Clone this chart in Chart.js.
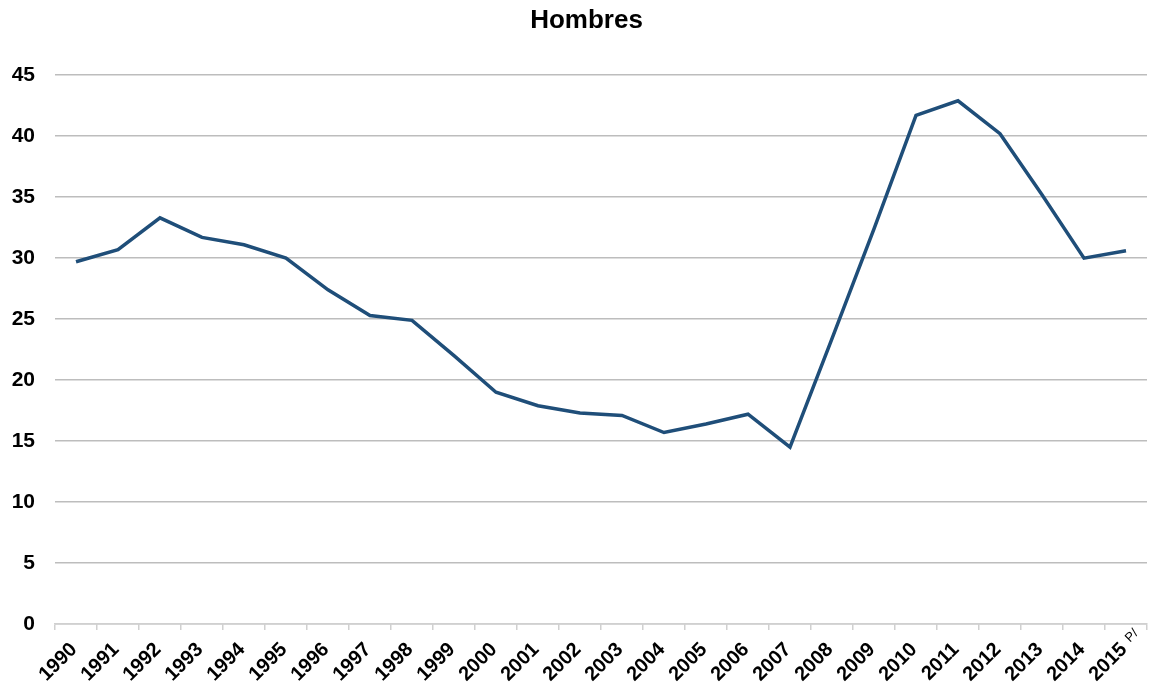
<!DOCTYPE html>
<html>
<head>
<meta charset="utf-8">
<script src="https://cdn.jsdelivr.net/npm/chart.js@4"></script>
<style>
  html, body { margin: 0; padding: 0; background: #fff; }
  #wrap { width: 1150px; height: 688px; }
</style>
</head>
<body>
<div id="wrap"><canvas id="chart" width="1150" height="688"></canvas></div>
<script>
// data
const years = ['1990','1991','1992','1993','1994','1995','1996','1997','1998','1999',
  '2000','2001','2002','2003','2004','2005','2006','2007','2008','2009',
  '2010','2011','2012','2013','2014','2015'];
const hombres = [29.7, 30.7, 33.3, 31.7, 31.1, 30.0, 27.4, 25.3, 24.9, 22.0,
  19.0, 17.9, 17.3, 17.1, 15.7, 16.4, 17.2, 14.5, 23.4, 32.4,
  41.7, 42.9, 40.2, 35.2, 30.0, 30.6];
const yTicks = [0, 5, 10, 15, 20, 25, 30, 35, 40, 45];
const lastNote = 'P/';   // preliminary mark after the last year

const font = 'Liberation Sans, Arial, sans-serif';
const X_TICK_LEN = 6, X_PAD = 8, X_SHIFT = -2, X_FONT = 20;

// small superscript "P/" after the last x label, rotated with it
const superscriptPlugin = {
    id: 'superscript',
    afterDraw(chart) {
        const sx = chart.scales.x;
        const ctx = chart.ctx;
        const x = sx.getPixelForTick(years.length - 1) + X_SHIFT;
        const y = sx.top + X_TICK_LEN + X_PAD;
        ctx.save();
        ctx.translate(x, y);
        ctx.rotate(-Math.PI / 4);
        ctx.font = '13px ' + font;
        ctx.fillStyle = '#000';
        ctx.textAlign = 'left';
        ctx.textBaseline = 'middle';
        // label middle sits at half a line height below the anchor
        ctx.fillText(lastNote, 1, X_FONT * 0.6 - 8);
        ctx.restore();
    }
};

new Chart(document.getElementById('chart').getContext('2d'), {
    type: 'line',
    data: {
        labels: years,
        datasets: [{
            label: 'Hombres',
            data: hombres,
            borderColor: '#1f4e79',
            borderWidth: 3.5,
            pointRadius: 0,
            tension: 0,
            fill: false
        }]
    },
    plugins: [superscriptPlugin],
    options: {
        responsive: false,
        animation: false,
        layout: { padding: { left: 0, right: 3, top: 5, bottom: 0 } },
        plugins: {
            legend: { display: false },
            tooltip: { enabled: false },
            title: {
                display: true,
                // en spaces nudge the title right, like the reference
                text: '\u2002\u2002Hombres',
                color: '#000',
                font: { family: font, size: 26, weight: 'bold' },
                padding: { top: 0, bottom: 39 }
            }
        },
        scales: {
            x: {
                offset: true,
                grid: {
                    offset: true,
                    drawOnChartArea: false,
                    drawTicks: true,
                    tickLength: X_TICK_LEN,
                    color: '#d0d0d0',
                    lineWidth: 1.5
                },
                border: { display: true, color: '#d0d0d0', width: 1.5 },
                ticks: {
                    color: '#000',
                    font: { family: font, size: X_FONT, weight: 'bold' },
                    minRotation: 45,
                    maxRotation: 45,
                    autoSkip: false,
                    labelOffset: X_SHIFT,
                    padding: X_PAD
                },
                afterFit: scale => {
                    scale.paddingLeft = 0;
                    scale.paddingRight = 0;
                    scale.height = 64;
                }
            },
            y: {
                min: 0,
                max: 45,
                afterBuildTicks: axis => { axis.ticks = yTicks.map(v => ({ value: v })); },
                afterFit: scale => { scale.width = 55; },
                grid: {
                    color: '#bdbdbd',
                    lineWidth: 1.5,
                    drawTicks: false
                },
                border: { display: false },
                ticks: {
                    color: '#000',
                    font: { family: font, size: 21, weight: 'bold' },
                    padding: 20
                }
            }
        }
    }
});
</script>
</body>
</html>
